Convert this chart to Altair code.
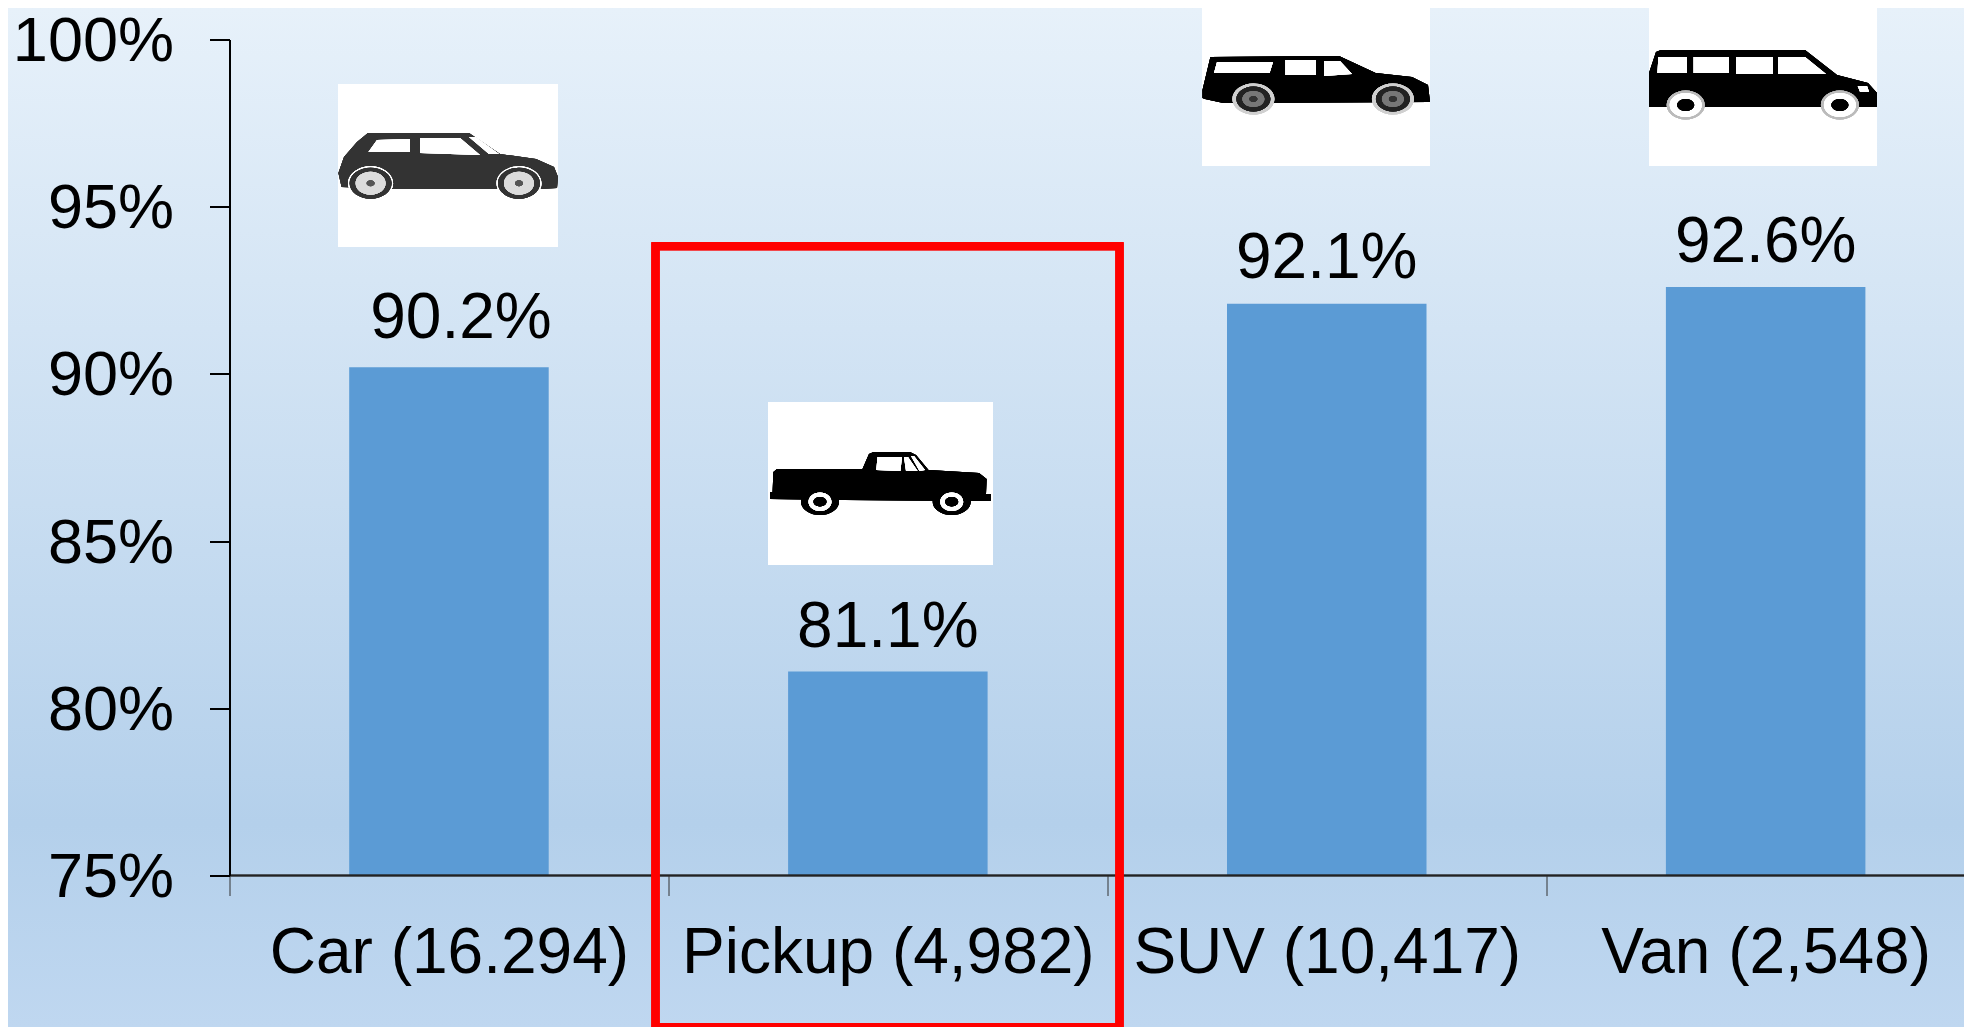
import altair as alt
import pandas as pd

categories = ["Car (16.294)", "Pickup (4,982)", "SUV (10,417)", "Van (2,548)"]
values = [90.2, 81.1, 92.1, 92.6]
y_ticks = [75, 80, 85, 90, 95, 100]

FONT = "Liberation Sans"
FS = 64
LEFT, TOP = 229.5, 39.5   # page position of the plot origin
RIGHT, BOTTOM = 1964, 1027  # page position of the end of the drawing


def poly(*pts):
    return "M" + "L".join(f"{x},{y}" for x, y in pts) + "Z"


def ell(cx, cy, rx, ry):
    return (f"M{cx - rx},{cy}A{rx},{ry} 0 1 1 {cx + rx},{cy}"
            f"A{rx},{ry} 0 1 1 {cx - rx},{cy}Z")


def wheels(cxs, cy, rx, ry):
    return "".join(ell(c, cy, rx, ry) for c in cxs)


# Vehicle pictograms: (panel left, panel top, panel width, panel height, drawing layers)
car_w = [32.6, 181]
pick_w = [52, 183.7]
suv_w = [51.4, 190.9]
van_w = [36.7, 190.9]
icons = [
    (338, 84, 220, 163, [
        ("#333333", poly((0.4, 89), (6, 73), (19, 58), (30, 49), (131, 49), (162, 70), (198, 75), (216, 83),
                         (220, 93), (219, 104), (202, 105), (53, 105), (3.6, 103))),
        ("#ffffff", poly((30.4, 68), (39, 56), (72, 55), (72, 68)) + poly((82, 54), (122, 54), (142, 71), (82, 69))
         + poly((131, 53), (137.5, 53), (161, 70), (151, 70))),
        ("#ffffff", wheels(car_w, 99.3, 22.5, 17)),
        ("#333333", wheels(car_w, 99.3, 21, 15.5)),
        ("#dcdcdc", wheels(car_w, 99.3, 15, 11.5)),
        ("#555555", wheels(car_w, 99.3, 4, 3)),
    ]),
    (768, 402, 225, 163, [
        ("#000000", poly((2.3, 97), (2.3, 90), (4.6, 90), (5.4, 70), (9, 67), (94.5, 67), (101, 52), (105.6, 50),
                         (142, 50), (148, 53), (160.5, 68), (211, 71), (218.6, 77), (218, 92), (222.7, 92),
                         (222.7, 99), (205, 99), (77, 98))),
        ("#000000", wheels(pick_w, 99.7, 19, 13.3)),
        ("#ffffff", wheels(pick_w, 99.7, 11.5, 9.3)),
        ("#000000", wheels(pick_w, 99.7, 6.5, 4.7)),
        ("#ffffff", poly((109.5, 55), (134, 55), (132.4, 69), (108.3, 68))
         + poly((136, 55), (140, 55), (149.6, 69), (138, 69))
         + poly((143, 54), (146, 54), (157, 68), (151.5, 69))),
    ]),
    (1202, 3, 228, 163, [
        ("#000000", poly((0.5, 95), (0.5, 87), (8.4, 54), (137, 53), (173.6, 70), (210, 74), (226, 82), (228, 99),
                         (21.5, 100), (3, 96))),
        ("#ffffff", poly((15, 59), (71, 59), (67.6, 70), (12, 70)) + poly((83.4, 57), (114, 57), (114, 72), (83.4, 72))
         + poly((122, 58), (138, 58), (150, 71), (122, 73))),
        ("#d0d0d0", wheels(suv_w, 96, 21, 15.5)),
        ("#222222", wheels(suv_w, 96, 17, 12.5)),
        ("#777777", wheels(suv_w, 96, 11, 8)),
        ("#333333", wheels(suv_w, 96, 4, 3)),
    ]),
    (1649, 3, 228, 163, [
        ("#000000", poly((0, 104), (0, 70), (7, 49), (12, 47), (156, 47), (188, 72), (219, 80), (228, 90), (228, 104))),
        ("#ffffff", poly((9.4, 54), (38, 54), (38, 70), (8.4, 70)) + poly((44.6, 54), (80, 54), (80, 70), (44.6, 70))
         + poly((87, 54), (124, 54), (124, 71), (87, 71)) + poly((129, 54), (156, 54), (177, 71), (129, 71))
         + poly((208.7, 83), (218, 83), (220, 88.7), (211, 88.7))),
        ("#bbbbbb", wheels(van_w, 102, 19, 14.5)),
        ("#ffffff", wheels(van_w, 102, 16, 12)),
        ("#000000", wheels(van_w, 102, 8.5, 6)),
    ]),
]

df = pd.DataFrame({"category": categories, "value": values,
                   "label": [f"{v}%" for v in values]})

x_enc = alt.X(
    "category:N", sort=categories, title=None,
    scale=alt.Scale(domain=categories, range=[0, 1755.6], paddingInner=0, paddingOuter=0),
    axis=alt.Axis(domain=False, tickBand="extent", tickSize=20, tickWidth=1, tickColor="#333333",
                  labelAngle=0, labelFont=FONT, labelFontSize=FS, labelColor="#000000", labelPadding=26,
                  labelOverlap=False, labelFlush=False, labelBound=False, labelLimit=1000, grid=False, zindex=1),
)
y_enc = alt.Y(
    "value:Q", title=None,
    scale=alt.Scale(domain=[75, 100], nice=False, zero=False),
    axis=alt.Axis(values=y_ticks, labelExpr="datum.value + '%'", tickSize=20, tickWidth=2, tickColor="#000000",
                  domainColor="#000000", domainWidth=2, labelFont=FONT, labelFontSize=63, labelOffset=2,
                  labelColor="#000000", labelPadding=36, grid=False, zindex=1),
)

base = alt.Chart(df)

gradient = alt.Gradient(
    gradient="linear", x1=0, x2=0, y1=0, y2=1,
    stops=[alt.GradientStop(color="#e7f1fa", offset=0),
           alt.GradientStop(color="#b4d0eb", offset=0.8),
           alt.GradientStop(color="#bfd7f0", offset=1)],
)
background = base.mark_rect(fill=gradient, strokeWidth=0).encode(
    x=alt.value(8 - LEFT), x2=alt.value(RIGHT - LEFT),
    y=alt.value(8 - TOP), y2=alt.value(BOTTOM - TOP),
)

bars = base.mark_bar(color="#5b9bd5", width=199.5).encode(x=x_enc, y=y_enc, y2=alt.Y2(datum=75))

baseline = base.mark_rule(color="#222222", strokeWidth=1.5).encode(
    x=alt.value(0), x2=alt.value(RIGHT - LEFT), y=alt.Y(datum=75, scale=alt.Scale(domain=[75, 100], nice=False)),
)

label_offsets = {"Car (16.294)": (12, -29), "Pickup (4,982)": (0, -25),
                 "SUV (10,417)": (0, -26), "Van (2,548)": (0, -25)}
text_layers = []
for cat, (dx, dy) in label_offsets.items():
    text_layers.append(
        base.transform_filter(alt.datum.category == cat)
        .mark_text(font=FONT, fontSize=FS, color="#000000", baseline="alphabetic", align="center", dx=dx, dy=dy)
        .encode(x=x_enc, y=y_enc, text="label:N")
    )

icon_layers = []
for left, top, w, h, layers in icons:
    icon_layers.append(
        base.mark_rect(fill="#ffffff", strokeWidth=0).encode(
            x=alt.value(left - LEFT), x2=alt.value(left + w - LEFT),
            y=alt.value(top - TOP), y2=alt.value(top + h - TOP),
        )
    )
    for color, path in layers:
        icon_layers.append(
            base.mark_point(shape=path, size=4, filled=True, fill=color, stroke=None, opacity=1).encode(
                x=alt.value(left - LEFT), y=alt.value(top - TOP),
            )
        )

red_box = base.mark_rect(fill=None, stroke="#ff0000", strokeWidth=8, strokeJoin="miter").encode(
    x=alt.value(655.5 - LEFT), x2=alt.value(1119.5 - LEFT),
    y=alt.value(246.3 - TOP), y2=alt.value(BOTTOM - TOP),
)

chart = alt.layer(background, bars, baseline, *text_layers, *icon_layers, red_box).properties(
    width=RIGHT - LEFT,
    height=836,
    autosize=alt.AutoSizeParams(type="none", contains="content"),
    padding={"left": LEFT - 8, "top": TOP - 8, "right": 0, "bottom": BOTTOM - TOP - 836},
).configure_view(stroke=None)

chart.save("out.html", embed_options={"renderer": "svg", "actions": False})
